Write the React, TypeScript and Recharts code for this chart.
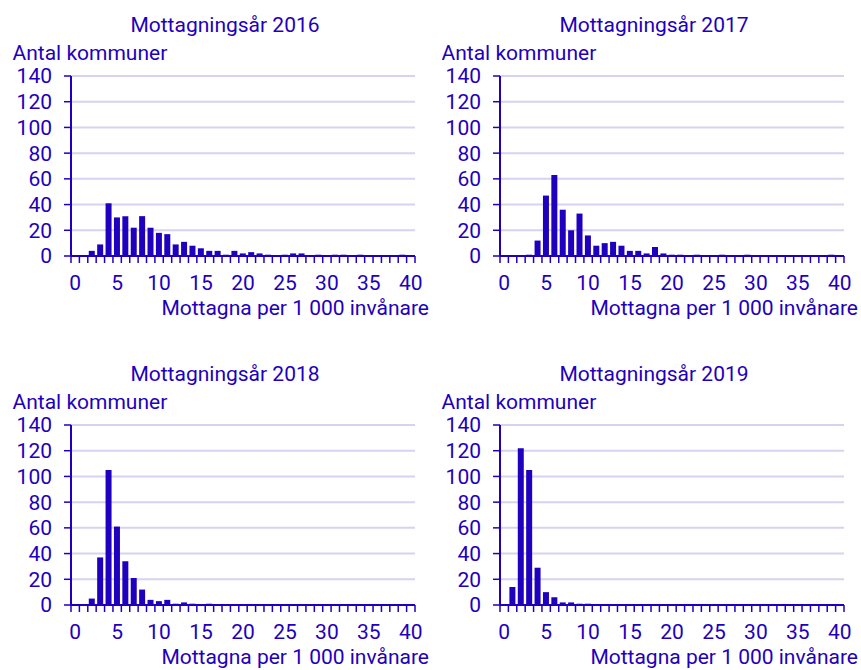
import { BarChart, Bar, XAxis, YAxis, CartesianGrid } from "recharts";

// x = mottagna per 1 000 invånare (hela tal), y = antal kommuner
const xValues = [
  0, 1, 2, 3, 4, 5, 6, 7, 8, 9, 10, 11, 12, 13, 14, 15, 16, 17, 18, 19, 20,
  21, 22, 23, 24, 25, 26, 27, 28, 29, 30, 31, 32, 33, 34, 35, 36, 37, 38, 39, 40,
];
const xTickLabels = [0, 5, 10, 15, 20, 25, 30, 35, 40];
const yTicks = [0, 20, 40, 60, 80, 100, 120, 140];

const counts2016 = [
  0, 0, 4, 9, 41, 30, 31, 22, 31, 22, 18, 17, 9, 11, 8, 6, 4, 4, 1, 4, 2,
  3, 2, 1, 0, 1, 2, 2, 0, 1, 0, 1, 1, 0, 1, 0, 0, 0, 0, 1, 0,
];
const counts2017 = [
  0, 0, 0, 1, 12, 47, 63, 36, 20, 33, 16, 8, 10, 11, 8, 4, 4, 2, 7, 2, 1,
  1, 0, 1, 0, 0, 1, 0, 0, 1, 0, 0, 0, 0, 0, 0, 0, 0, 0, 1, 0,
];
const counts2018 = [
  0, 0, 5, 37, 105, 61, 34, 21, 12, 4, 3, 4, 1, 2, 1, 0, 1, 0, 0, 0, 0,
  0, 0, 0, 0, 0, 0, 0, 0, 0, 0, 0, 0, 0, 0, 0, 0, 0, 0, 0, 0,
];
const counts2019 = [
  0, 14, 122, 105, 29, 10, 6, 2, 2, 1, 1, 0, 0, 0, 0, 0, 0, 0, 0, 0, 0,
  0, 0, 0, 0, 0, 0, 0, 0, 0, 0, 0, 0, 0, 0, 0, 0, 0, 0, 0, 0,
];

const BLUE = "#1E00BE";
const GRID = "#D5D3F1";
const FONT = "Roboto, 'Noto Sans', sans-serif";
const FS = 21;

// tick marks sit on the edges between the bars
const tickEdges = [...xValues.map((v) => v - 0.5), 40.5];

const NoLabel = () => <g />;

type PanelProps = {
  year: string;
  counts: number[];
  left: number;
  top: number;
};

function Panel({ year, counts, left, top }: PanelProps) {
  const data = xValues.map((x, i) => ({ x, n: counts[i] }));

  return (
    <div style={{ position: "absolute", left, top, width: 430, height: 340 }}>
      <BarChart
        width={430}
        height={340}
        data={data}
        margin={{ top: 76, right: 15, bottom: 37, left: 0 }}
      >
        <CartesianGrid vertical={false} stroke={GRID} strokeWidth={2} />
        <XAxis
          xAxisId={0}
          dataKey="x"
          type="number"
          domain={[-0.5, 40.5]}
          ticks={tickEdges}
          interval={0}
          tick={NoLabel}
          tickSize={7}
          height={7}
          axisLine={{ stroke: BLUE, strokeWidth: 2 }}
          tickLine={{ stroke: BLUE, strokeWidth: 1.5 }}
        />
        <XAxis
          xAxisId={1}
          dataKey="x"
          type="number"
          domain={[-0.5, 40.5]}
          ticks={xTickLabels}
          interval={0}
          axisLine={false}
          tickLine={false}
          tickSize={0}
          tickMargin={12.5}
          height={40}
          tick={{ fill: BLUE, fontSize: FS }}
        />
        <YAxis
          domain={[0, 140]}
          ticks={yTicks}
          interval={0}
          width={71}
          tickSize={7}
          tickMargin={12}
          axisLine={{ stroke: BLUE, strokeWidth: 2 }}
          tickLine={{ stroke: BLUE, strokeWidth: 1.5 }}
          tick={{ fill: BLUE, fontSize: FS }}
        />
        <Bar
          xAxisId={0}
          dataKey="n"
          fill={BLUE}
          barSize={6}
          isAnimationActive={false}
        />
      </BarChart>

      <div
        style={{
          position: "absolute",
          left: 0,
          top: 15.3,
          width: 450,
          textAlign: "center",
          fontSize: FS,
          lineHeight: FS + "px",
          color: BLUE,
          whiteSpace: "nowrap",
        }}
      >
        Mottagningsår {year}
      </div>
      <div
        style={{
          position: "absolute",
          left: 12.5,
          top: 42.8,
          fontSize: FS,
          lineHeight: FS + "px",
          color: BLUE,
          whiteSpace: "nowrap",
        }}
      >
        Antal kommuner
      </div>
      <div
        style={{
          position: "absolute",
          left: 0,
          top: 300.3,
          width: 429,
          textAlign: "right",
          fontSize: FS,
          lineHeight: "16px",
          color: BLUE,
          whiteSpace: "nowrap",
        }}
      >
        Mottagna per 1 000 invånare
      </div>
    </div>
  );
}

export default function App() {
  return (
    <div
      style={{
        position: "absolute",
        left: 0,
        top: 0,
        width: 861,
        height: 670,
        background: "#fff",
        fontFamily: FONT,
      }}
    >
      <Panel year="2016" counts={counts2016} left={0} top={0} />
      <Panel year="2017" counts={counts2017} left={429} top={0} />
      <Panel year="2018" counts={counts2018} left={0} top={349} />
      <Panel year="2019" counts={counts2019} left={429} top={349} />
    </div>
  );
}
